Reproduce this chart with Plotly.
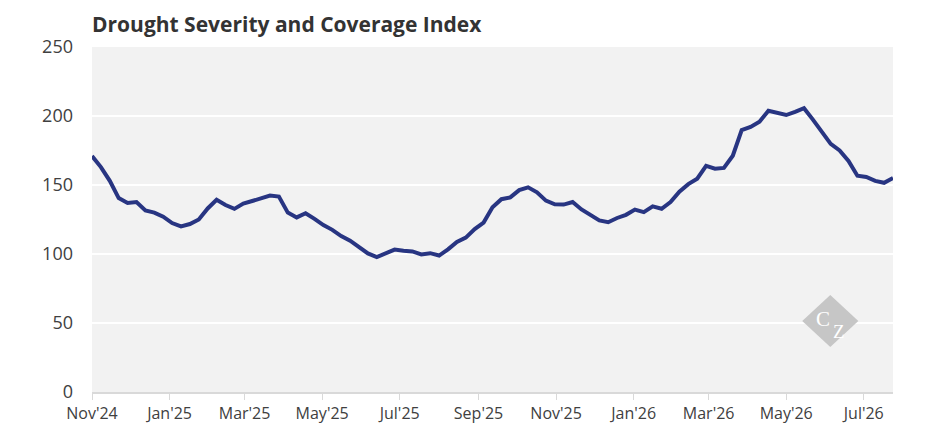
import pandas as pd
import plotly.graph_objs as go

# weekly index readings
start_date = '2024-11-01'
index_values = [171, 163, 153, 140.5, 137, 137.6, 131.5, 130, 127, 122.4,
                120, 121.7, 125, 133, 139.3, 135.5, 132.7, 136.5, 138.4, 140,
                142.3, 141.6, 130, 126.5, 129.5, 125.5, 121, 117.5, 113, 109.7,
                105.4, 100.4, 97.8, 100.7, 103.2, 102.3, 101.9, 99.7, 100.6, 98.9,
                103.4, 108.8, 111.9, 118.1, 122.8, 133.8, 139.7, 141, 146.3, 148.3,
                144.7, 138.7, 136, 135.8, 137.7, 132.3, 128.5, 124.3, 123, 126.1,
                128.4, 132.2, 130.3, 134.5, 132.8, 137.6, 145.2, 150.6, 154.6, 163.8,
                161.8, 162.4, 171.2, 189.8, 192.1, 195.9, 203.8, 202.4, 200.7, 203,
                205.6, 197.4, 188.8, 179.8, 175, 167.4, 156.7, 155.8, 153, 151.6,
                155]

tick_dates = ['2024-11-01', '2025-01-01', '2025-03-01', '2025-05-01', '2025-07-01',
              '2025-09-01', '2025-11-01', '2026-01-01', '2026-03-01', '2026-05-01',
              '2026-07-01']
tick_labels = ["Nov'24", "Jan'25", "Mar'25", "May'25", "Jul'25", "Sep'25",
               "Nov'25", "Jan'26", "Mar'26", "May'26", "Jul'26"]
y_ticks = [0, 50, 100, 150, 200, 250]

dates = pd.date_range(start=start_date, periods=len(index_values), freq='7D')

fig = go.Figure()

fig.add_trace(go.Scatter(x=dates, y=index_values, mode='lines',
                         line=dict(color='#283582', width=4),
                         hoverinfo='x+y', showlegend=False))

# CZ watermark diamond
cx, cy, hw, hh = 0.9217, 0.2058, 0.035, 0.0754
fig.add_shape(type='path', xref='paper', yref='paper',
              path=f'M {cx-hw},{cy} L {cx},{cy+hh} L {cx+hw},{cy} L {cx},{cy-hh} Z',
              fillcolor='#c6c6c6', line=dict(width=0), layer='above')
fig.add_annotation(x=0.9126, y=0.2116, xref='paper', yref='paper',
                   xanchor='center', yanchor='middle', text='C', showarrow=False,
                   borderpad=0,
                   font=dict(family='Liberation Serif', size=21, color='white'))
fig.add_annotation(x=0.9326, y=0.1768, xref='paper', yref='paper',
                   xanchor='center', yanchor='middle', text='Z', showarrow=False,
                   borderpad=0,
                   font=dict(family='Liberation Serif', size=19, color='white'))

# page body adds 8px offset, so margins are shifted by 8
fig.update_layout(
    width=945, height=443,
    margin=dict(l=84, r=60, t=39, b=59),
    paper_bgcolor='white', plot_bgcolor='#f2f2f2',
    font=dict(family='Open Sans', color='#404040', size=16),
    title=dict(text='<b>Drought Severity and Coverage Index</b>',
               x=84 / 945, xanchor='left', y=1 - 17 / 443, yanchor='middle',
               font=dict(family='Open Sans', size=21, color='#333333')),
    xaxis=dict(range=[dates[0], dates[-1]], tickvals=pd.to_datetime(tick_dates),
               ticktext=tick_labels, showgrid=False, showline=True,
               linecolor='#d9d9d9', linewidth=2, ticks='outside', ticklen=6,
               tickcolor='#d9d9d9', tickwidth=1, tickfont=dict(size=16, color='#404040')),
    yaxis=dict(range=[0, 250], tickvals=y_ticks, showgrid=True, gridcolor='white',
               gridwidth=2, zeroline=False, showline=False, ticks='',
               ticklabelstandoff=18, tickfont=dict(size=18, color='#404040')),
)

fig.write_html('out.html')
